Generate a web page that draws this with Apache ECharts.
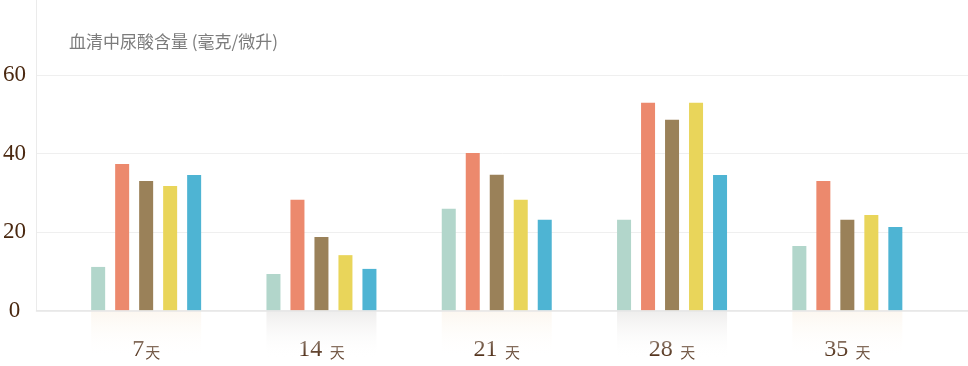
<!DOCTYPE html>
<html>
<head>
<meta charset="utf-8">
<script src="https://cdn.jsdelivr.net/npm/echarts@6/dist/echarts.min.js"></script>
<style>html,body{margin:0;padding:0;background:#fff;}#c{width:968px;height:366px;}</style>
</head>
<body>
<div id="c"></div>
<script>
const title = '血清中尿酸含量 (毫克/微升)';
const dayNumbers = ['7', '14', '21', '28', '35'];
const daySeparators = ['', ' ', ' ', ' ', ' '];
const dayUnit = '天';
const yTicks = [0, 20, 40, 60];
const seriesA = [11.1, 9.3, 25.9, 23.1, 16.4];
const seriesB = [37.3, 28.2, 40.1, 52.9, 33.0];
const seriesC = [33.0, 18.7, 34.6, 48.6, 23.1];
const seriesD = [31.7, 14.1, 28.2, 52.9, 24.3];
const seriesE = [34.5, 10.6, 23.1, 34.5, 21.3];

const categories = dayNumbers.map((n, i) => n + daySeparators[i] + dayUnit);
const allSeries = [seriesA, seriesB, seriesC, seriesD, seriesE];
const colors = ['#b2d6cb', '#ec896d', '#9a8159', '#e9d55a', '#4eb4d3'];
const Y_MAX = 79.1;

function bandGradient(i) {
  const top = i % 2 === 0 ? 'rgba(252,246,238,0.9)' : 'rgba(238,237,236,1)';
  return {
    type: 'linear', x: 0, y: 0, x2: 0, y2: 1,
    colorStops: [{ offset: 0, color: top }, { offset: 1, color: 'rgba(255,255,255,0)' }]
  };
}

const unitStyle = { fontFamily: 'Noto Sans CJK SC', fontSize: 15, color: '#62442f', lineHeight: 26, verticalAlign: 'bottom' };

const chart = echarts.init(document.getElementById('c'), null, { renderer: 'canvas' });
chart.setOption({
  animation: false,
  backgroundColor: '#ffffff',
  title: {
    text: title, left: 64, top: 28,
    textStyle: { fontFamily: 'Noto Sans CJK SC', fontSize: 17, fontWeight: 'normal', color: '#7c7c7c' }
  },
  grid: [
    { left: 35, right: 0, top: 0, bottom: 55.5 },
    { left: 58.5, right: 33, top: 0, bottom: 55.5 },
    { left: 58.5, right: 33, top: 310.5, height: 48 }
  ],
  xAxis: [
    { gridIndex: 0, type: 'category', data: categories, axisLine: { show: true, lineStyle: { color: '#e6e6e6', width: 1.5 } }, axisTick: { show: false }, axisLabel: { show: false }, z: 5 },
    {
      gridIndex: 1, type: 'category', data: categories,
      axisLine: { show: false }, axisTick: { show: false },
      axisLabel: {
        margin: 25,
        formatter: function (v, i) {
          const key = daySeparators[i] ? 'us' : 'u';
          return '{n|' + dayNumbers[i] + '}{' + key + '|' + daySeparators[i] + dayUnit + '}';
        },
        rich: {
          n: { fontFamily: 'Liberation Serif', fontSize: 24, color: '#4a2810', lineHeight: 26, verticalAlign: 'bottom' },
          u: Object.assign({}, unitStyle, { padding: [0, 0, 2, 1] }),
          us: Object.assign({}, unitStyle, { padding: [0, 0, 2, 4] })
        }
      }
    },
    { gridIndex: 2, type: 'category', data: categories, show: false }
  ],
  yAxis: [
    {
      gridIndex: 0, type: 'value', min: 0, max: Y_MAX, interval: 20,
      axisLine: { show: true, lineStyle: { color: '#ebebeb', width: 1 } },
      axisTick: { show: false },
      splitLine: { show: true, showMaxLine: false, lineStyle: { color: '#efefef', width: 1 } },
      axisLabel: {
        showMaxLabel: false, margin: 22, align: 'center',
        formatter: function (v) { return yTicks.indexOf(v) >= 0 ? String(v) : ''; },
        fontFamily: 'Liberation Serif', fontSize: 23, color: '#4a2810', padding: [4, 0, 0, 0]
      }
    },
    { gridIndex: 1, type: 'value', min: 0, max: Y_MAX, show: false },
    { gridIndex: 2, type: 'value', min: 0, max: 1, show: false }
  ],
  series: [
    {
      type: 'bar', xAxisIndex: 2, yAxisIndex: 2, barWidth: 110, silent: true, z: 1,
      data: categories.map((c, i) => ({ value: 1, itemStyle: { color: bandGradient(i) } }))
    }
  ].concat(allSeries.map((d, k) => ({
    type: 'bar', xAxisIndex: 1, yAxisIndex: 1, data: d,
    barWidth: 14, barGap: '71.4%', z: 3,
    itemStyle: { color: colors[k] }
  })))
});
</script>
</body>
</html>
